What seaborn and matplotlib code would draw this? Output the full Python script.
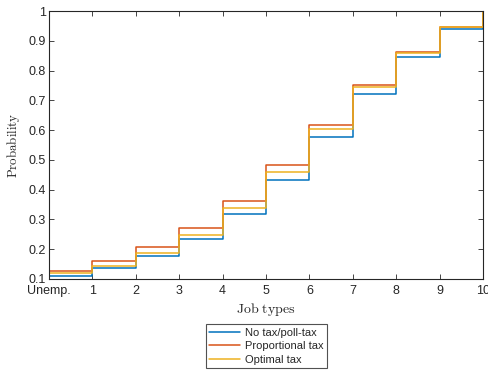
import numpy as np
import pandas as pd
import seaborn as sns
import matplotlib.pyplot as plt

# job types (0 = unemployed), value holds on [k, k+1)
job_types = [0, 1, 2, 3, 4, 5, 6, 7, 8, 9, 10]
tick_labels = ['Unemp.', '1', '2', '3', '4', '5', '6', '7', '8', '9', '10']

no_tax = [0.110, 0.137, 0.177, 0.233, 0.317, 0.432, 0.576, 0.720, 0.846, 0.940, 1.0]
proportional = [0.128, 0.161, 0.206, 0.271, 0.362, 0.482, 0.619, 0.752, 0.863, 0.947, 1.0]
optimal = [0.119, 0.143, 0.186, 0.247, 0.337, 0.458, 0.603, 0.744, 0.860, 0.946, 1.0]

series_names = ['No tax/poll-tax', 'Proportional tax', 'Optimal tax']
colors = ['#0072BD', '#D95319', '#EDB120']

df = pd.DataFrame({
    'job': job_types * 3,
    'prob': no_tax + proportional + optimal,
    'scheme': [s for s in series_names for _ in job_types],
})

sns.set_style('ticks')
plt.rcParams['font.family'] = ['Liberation Sans', 'DejaVu Sans']
plt.rcParams['mathtext.fontset'] = 'cm'

fig = plt.figure(figsize=(4.88, 3.71), dpi=100)
ax = fig.add_axes([0.1004, 0.248, 0.8894, 0.722])

sns.lineplot(data=df, x='job', y='prob', hue='scheme', palette=colors,
             drawstyle='steps-post', linewidth=1.1, ax=ax, legend=True)

ax.set_xlim(0, 10)
ax.set_ylim(0.1, 1)
ax.set_xticks(job_types)
ax.set_xticklabels(tick_labels)
ax.set_yticks(np.arange(0.1, 1.01, 0.1))
ax.set_yticklabels(['0.1', '0.2', '0.3', '0.4', '0.5', '0.6', '0.7', '0.8', '0.9', '1'])

gray = '#262626'
for sp in ax.spines.values():
    sp.set_visible(True)
    sp.set_color(gray)
    sp.set_linewidth(0.8)
ax.tick_params(direction='in', top=True, right=True, length=3.5, width=0.6,
               labelsize=9, colors=gray, pad=2)
ax.tick_params(axis='x', pad=4.5)

ax.set_xlabel(r'$\mathrm{Job\ types}$', fontsize=10, color=gray, labelpad=3)
ax.set_ylabel(r'$\mathrm{Probability}$', fontsize=9.3, color=gray, labelpad=5)

handles, labels = ax.get_legend_handles_labels()
ax.get_legend().remove()
leg = fig.legend(handles, labels, loc='upper center', bbox_to_anchor=(0.546, 0.126),
                 fontsize=8, frameon=True, fancybox=False, handlelength=2.8,
                 handletextpad=0.4, borderpad=0.3, labelspacing=0.33, borderaxespad=0)
leg.get_frame().set_edgecolor(gray)
leg.get_frame().set_linewidth(0.8)

fig.savefig('out.png', dpi=100)
